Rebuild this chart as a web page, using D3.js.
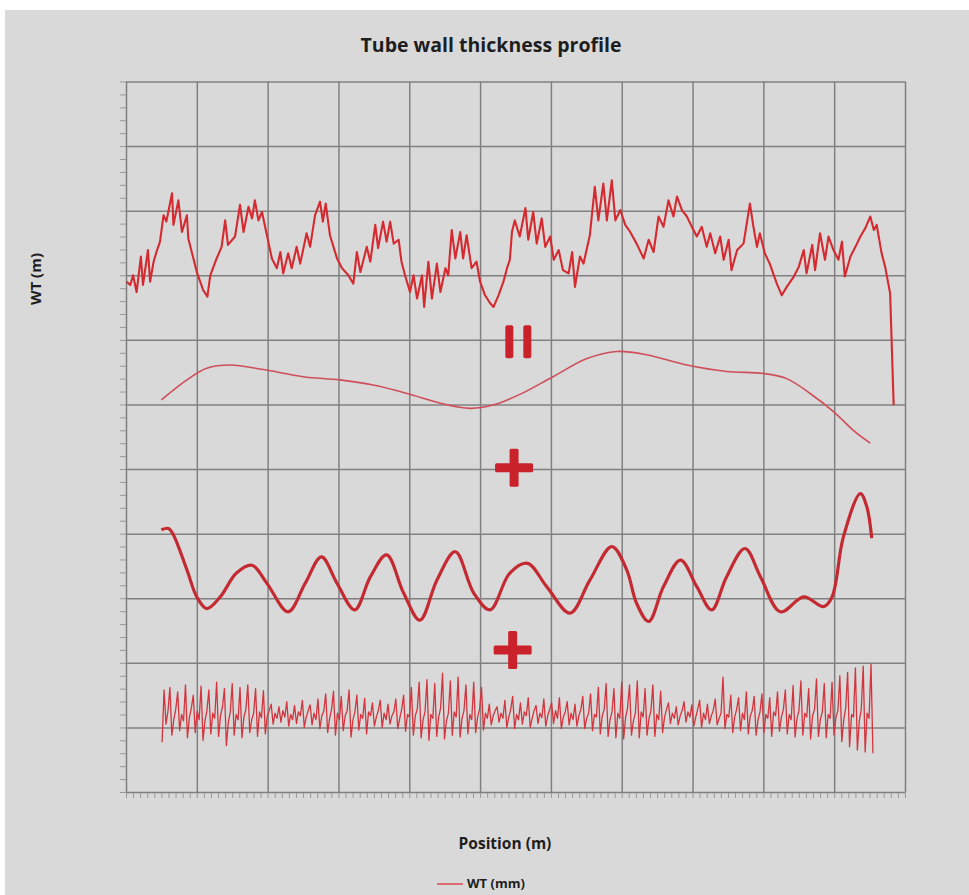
<!DOCTYPE html>
<html lang="en">
<head>
<meta charset="utf-8">
<title>Tube wall thickness profile</title>
<script src="https://d3js.org/d3.v7.min.js"></script>
<style>
  body { margin: 0; background: #fff; }
  text { font-family: "Open Sans", "DejaVu Sans", sans-serif; font-weight: bold; fill: #1e1e1e; }
</style>
</head>
<body>
<script>

// ---- Data (position in grid units, WT in grid units) ----

// measured profile (top trace)
const wtProfile = [
  [0.01,7.90],[0.06,7.85],[0.10,8.00],[0.15,7.74],[0.21,8.29],[0.24,7.85],[0.31,8.39],[0.34,7.90],
  [0.39,8.21],[0.43,8.36],[0.48,8.52],[0.53,8.93],[0.57,8.83],[0.65,9.27],[0.67,8.78],[0.74,9.16],
  [0.79,8.67],[0.86,8.93],[0.88,8.57],[1.00,8.05],[1.09,7.77],[1.15,7.67],[1.19,8.00],[1.28,8.26],
  [1.35,8.44],[1.40,8.85],[1.44,8.47],[1.54,8.60],[1.61,9.09],[1.66,8.67],[1.73,9.06],[1.78,8.88],
  [1.82,9.16],[1.87,8.85],[1.92,8.98],[1.99,8.62],[2.06,8.26],[2.13,8.11],[2.18,8.36],[2.22,8.03],
  [2.29,8.34],[2.34,8.11],[2.41,8.44],[2.46,8.18],[2.55,8.65],[2.60,8.44],[2.67,8.93],[2.74,9.14],
  [2.78,8.83],[2.82,9.11],[2.88,8.62],[2.98,8.26],[3.05,8.11],[3.14,8.00],[3.21,7.87],[3.26,8.36],
  [3.31,8.05],[3.40,8.44],[3.45,8.21],[3.52,8.78],[3.56,8.42],[3.63,8.83],[3.68,8.52],[3.73,8.83],
  [3.78,8.49],[3.85,8.55],[3.89,8.21],[3.94,8.00],[4.01,7.74],[4.06,8.00],[4.11,7.64],[4.18,8.00],
  [4.21,7.51],[4.27,8.21],[4.32,7.64],[4.39,8.18],[4.44,7.74],[4.51,8.11],[4.55,8.00],[4.60,8.70],
  [4.65,8.26],[4.72,8.67],[4.76,8.26],[4.81,8.62],[4.88,8.11],[4.95,8.21],[5.00,7.90],[5.07,7.69],
  [5.14,7.57],[5.19,7.51],[5.26,7.69],[5.33,7.90],[5.38,8.11],[5.42,8.24],[5.45,8.67],[5.49,8.85],
  [5.56,8.60],[5.64,9.04],[5.68,8.55],[5.75,8.98],[5.80,8.49],[5.87,8.88],[5.92,8.44],[5.99,8.60],
  [6.04,8.24],[6.11,8.39],[6.17,8.08],[6.25,8.03],[6.30,8.36],[6.34,7.82],[6.41,8.29],[6.46,8.18],
  [6.55,8.62],[6.62,9.37],[6.67,8.85],[6.74,9.42],[6.79,8.85],[6.86,9.47],[6.91,8.85],[6.98,9.01],
  [7.05,8.78],[7.12,8.67],[7.21,8.49],[7.31,8.26],[7.38,8.55],[7.45,8.36],[7.52,8.91],[7.59,8.75],
  [7.66,9.16],[7.73,8.91],[7.78,9.22],[7.85,9.01],[7.92,8.91],[7.99,8.75],[8.06,8.60],[8.13,8.75],
  [8.20,8.44],[8.25,8.65],[8.32,8.34],[8.39,8.60],[8.44,8.24],[8.51,8.55],[8.55,8.08],[8.63,8.39],
  [8.72,8.49],[8.81,9.11],[8.86,8.75],[8.91,8.44],[8.95,8.65],[9.02,8.34],[9.09,8.18],[9.19,7.87],
  [9.26,7.69],[9.33,7.82],[9.43,7.98],[9.50,8.13],[9.57,8.39],[9.61,8.03],[9.69,8.47],[9.73,8.08],
  [9.80,8.65],[9.87,8.24],[9.92,8.60],[9.99,8.39],[10.06,8.24],[10.11,8.52],[10.15,7.98],[10.23,8.29],
  [10.30,8.44],[10.37,8.60],[10.44,8.73],[10.51,8.91],[10.56,8.70],[10.60,8.78],[10.67,8.34],[10.72,8.13],
  [10.79,7.72],[10.84,5.99]
];

// long-wave trend component
const trendPos = [0.50,0.86,1.14,1.47,1.94,2.50,3.02,3.49,3.97,4.44,4.86,5.18,5.57,6.03,6.51,6.93,7.35,7.92,8.48,9.00,9.33,9.66,9.99,10.27,10.51];
const trendWT  = [6.07,6.38,6.56,6.61,6.54,6.43,6.38,6.30,6.17,6.02,5.94,5.99,6.16,6.43,6.71,6.82,6.77,6.61,6.51,6.48,6.40,6.17,5.89,5.60,5.40];

// medium-wave component
const wavePos = [0.50,0.60,0.67,0.86,1.00,1.14,1.33,1.56,1.78,1.99,2.29,2.53,2.76,2.98,3.23,3.45,3.68,3.92,4.15,4.39,
                 4.65,4.91,5.14,5.42,5.67,5.94,6.27,6.55,6.86,7.07,7.21,7.38,7.59,7.83,8.06,8.27,8.48,8.74,8.96,9.24,
                 9.57,9.85,9.97,10.13,10.37,10.46,10.53];
const waveWT  = [4.06,4.08,3.98,3.44,3.02,2.84,3.02,3.39,3.51,3.23,2.79,3.23,3.64,3.23,2.82,3.33,3.67,3.08,2.66,3.28,
                 3.72,3.08,2.82,3.39,3.54,3.18,2.77,3.28,3.80,3.44,2.92,2.64,3.18,3.59,3.18,2.82,3.33,3.77,3.33,2.79,
                 3.02,2.87,3.02,3.95,4.62,4.42,3.93];

// short-wave (noise) component, evenly spaced from noiseStart by noiseStep
const noiseStart = 0.51;
const noiseStep = 0.0275;
const noiseWT = [
  0.77,1.58,1.05,1.25, 1.62,0.88,1.12,1.28, 1.55,0.95,1.20,1.10, 1.66,0.84,1.15,1.30,
  1.50,0.92,1.25,1.12, 1.64,0.80,1.10,1.26, 1.58,0.90,1.22,1.14, 1.70,0.86,1.18,1.32,
  1.60,0.72,1.08,1.24, 1.68,0.88,1.20,1.12, 1.62,0.84,1.16,1.28, 1.66,0.92,1.12,1.22,
  1.60,0.86,1.24,1.15, 1.57,0.90,1.18,1.26,
  1.36,1.05,1.22,1.14, 1.32,1.08,1.26,1.16, 1.40,1.02,1.20,1.12, 1.34,1.06,1.24,1.18,
  1.42,1.00,1.16,1.26, 1.35,1.04,1.22,1.12, 1.44,0.98,1.18,1.25,
  1.52,0.92,1.14,1.28, 1.56,0.88,1.22,1.12, 1.48,0.95,1.18,1.26, 1.58,0.85,1.12,1.24,
  1.50,0.96,1.20,1.14, 1.45,0.90,1.24,1.18, 1.38,1.02,1.16,1.26, 1.42,1.00,1.22,1.12,
  1.36,1.05,1.18,1.24, 1.44,0.98,1.14,1.28, 1.50,0.94,1.20,1.16,
  1.62,0.88,1.18,1.28, 1.70,0.84,1.12,1.24, 1.74,0.80,1.20,1.14, 1.68,0.86,1.16,1.30,
  1.84,0.82,1.10,1.22, 1.72,0.88,1.24,1.16, 1.78,0.85,1.14,1.26, 1.66,0.90,1.20,1.12,
  1.70,0.92,1.16,1.28, 1.62,0.96,1.22,1.14,
  1.36,1.04,1.18,1.26, 1.32,1.08,1.22,1.14, 1.42,1.00,1.16,1.28, 1.48,0.98,1.20,1.12,
  1.38,1.05,1.24,1.18, 1.46,1.00,1.14,1.26, 1.34,1.06,1.22,1.15, 1.44,1.02,1.18,1.28,
  1.38,1.06,1.26,1.14, 1.46,0.98,1.16,1.24, 1.40,1.04,1.22,1.12, 1.36,1.02,1.18,1.28,
  1.48,0.98,1.14,1.22, 1.52,0.95,1.20,1.16,
  1.62,0.90,1.18,1.28, 1.68,0.86,1.12,1.24, 1.60,0.84,1.22,1.14, 1.70,0.82,1.16,1.30,
  1.66,0.88,1.10,1.22, 1.72,0.84,1.24,1.16, 1.60,0.88,1.14,1.26, 1.66,0.86,1.20,1.12,
  1.56,0.92,1.16,1.28,
  1.38,1.06,1.22,1.14, 1.32,1.04,1.18,1.26, 1.40,1.08,1.24,1.16, 1.35,1.02,1.16,1.28,
  1.42,1.00,1.22,1.12, 1.36,1.06,1.18,1.26, 1.44,1.04,1.14,1.22, 1.78,0.98,1.20,1.16,
  1.50,0.92,1.16,1.28, 1.46,0.95,1.22,1.12, 1.55,0.90,1.18,1.26, 1.48,0.88,1.12,1.24,
  1.52,0.92,1.20,1.14, 1.46,0.86,1.24,1.18, 1.55,0.94,1.16,1.28, 1.58,0.90,1.20,1.12,
  1.65,0.85,1.14,1.26, 1.72,0.88,1.22,1.16, 1.60,0.82,1.18,1.28, 1.75,0.86,1.12,1.24,
  1.68,0.84,1.20,1.14, 1.70,0.88,1.16,1.26,
  1.80,0.78,1.12,1.30, 1.85,0.70,1.20,1.16, 1.92,0.65,1.10,1.28, 1.95,0.62,1.22,1.14,
  1.98,0.60
];

// axis extents (grid units)
const xDomain = [0, 11];
const yDomain = [0, 11];

// ---- Layout ----
const W = 969, H = 895;
const mLeft = 126, mRight = 905, mTop = 81.5, mBottom = 792;

const svg = d3.select("body").append("svg")
    .attr("width", W)
    .attr("height", H);

svg.append("rect").attr("width", W).attr("height", H).attr("fill", "#fff");
svg.append("rect").attr("x", 5).attr("y", 10).attr("width", W - 5).attr("height", H - 10).attr("fill", "#d9d9d9");

const x = d3.scaleLinear().domain(xDomain).range([mLeft, mRight]);
const y = d3.scaleLinear().domain(yDomain).range([mBottom, mTop]);

// minor ticks
svg.append("g")
    .attr("transform", "translate(" + mLeft + ",0)")
    .call(d3.axisLeft(y).tickValues(d3.range(0, 11.01, 0.2)).tickSize(6).tickFormat(""))
    .call(g => g.select(".domain").remove())
    .call(g => g.selectAll("line").attr("stroke", "#9a9a9a").attr("stroke-width", 1));

svg.append("g")
    .attr("transform", "translate(0," + mBottom + ")")
    .call(d3.axisBottom(x).tickValues(d3.range(0, 11.01, 0.1)).tickSize(6).tickFormat(""))
    .call(g => g.select(".domain").remove())
    .call(g => g.selectAll("line").attr("stroke", "#9a9a9a").attr("stroke-width", 1));

// grid
svg.append("g")
    .attr("transform", "translate(" + mLeft + ",0)")
    .call(d3.axisLeft(y).ticks(11).tickSize(-(mRight - mLeft)).tickFormat(""))
    .call(g => g.select(".domain").remove())
    .call(g => g.selectAll("line").attr("stroke", "#808080").attr("stroke-width", 1.5));

svg.append("g")
    .attr("transform", "translate(0," + mBottom + ")")
    .call(d3.axisBottom(x).ticks(11).tickSize(-(mBottom - mTop)).tickFormat(""))
    .call(g => g.select(".domain").remove())
    .call(g => g.selectAll("line").attr("stroke", "#808080").attr("stroke-width", 1.5));

// ---- Lines ----
const smooth = d3.line().x(d => x(d[0])).y(d => y(d[1])).curve(d3.curveCatmullRom);
const straight = d3.line().x(d => x(d[0])).y(d => y(d[1]));

svg.append("path")
    .attr("fill", "none")
    .attr("stroke", "#cf4e5a")
    .attr("stroke-width", 1.6)
    .attr("d", smooth(d3.zip(trendPos, trendWT)));

svg.append("path")
    .attr("fill", "none")
    .attr("stroke", "#c42a31")
    .attr("stroke-width", 3.2)
    .attr("d", smooth(d3.zip(wavePos, waveWT)));

svg.append("path")
    .attr("fill", "none")
    .attr("stroke", "#d3343d")
    .attr("stroke-width", 1.3)
    .attr("stroke-linejoin", "round")
    .attr("d", d3.line().x((d, i) => x(noiseStart + i * noiseStep)).y(d => y(d))(noiseWT));

svg.append("path")
    .attr("fill", "none")
    .attr("stroke", "#d42a30")
    .attr("stroke-width", 2.1)
    .attr("stroke-linejoin", "round")
    .attr("d", straight(wtProfile));

// ---- "=" and "+" signs ----
const signColor = "#c9222b";
function plus(cx, cy) {
    svg.append("rect").attr("x", cx - 19).attr("y", cy - 4.5).attr("width", 38).attr("height", 9).attr("rx", 1.5).attr("fill", signColor);
    svg.append("rect").attr("x", cx - 4.5).attr("y", cy - 19).attr("width", 9).attr("height", 38).attr("rx", 1.5).attr("fill", signColor);
}
const eqX = x(5.54), eqY = y(6.97);
svg.append("rect").attr("x", eqX - 13).attr("y", eqY - 16.5).attr("width", 8).attr("height", 33).attr("rx", 2).attr("fill", signColor);
svg.append("rect").attr("x", eqX + 5).attr("y", eqY - 16.5).attr("width", 8).attr("height", 33).attr("rx", 2).attr("fill", signColor);
plus(x(5.48), y(5.02));
plus(x(5.46), y(2.20));

// ---- Text ----
svg.append("text")
    .attr("x", 491).attr("y", 52)
    .attr("text-anchor", "middle")
    .attr("font-size", "19.5px")
    .text("Tube wall thickness profile");

svg.append("text")
    .attr("transform", "translate(41,279) rotate(-90)")
    .attr("text-anchor", "middle")
    .attr("font-size", "15px")
    .text("WT (m)");

svg.append("text")
    .attr("x", 505).attr("y", 849)
    .attr("text-anchor", "middle")
    .attr("font-size", "15.5px")
    .text("Position (m)");

// legend
svg.append("line")
    .attr("x1", 437).attr("x2", 463).attr("y1", 884).attr("y2", 884)
    .attr("stroke", "#df6b72").attr("stroke-width", 2);
svg.append("text")
    .attr("x", 467).attr("y", 888)
    .attr("font-size", "13px")
    .text("WT (mm)");

</script>
</body>
</html>
